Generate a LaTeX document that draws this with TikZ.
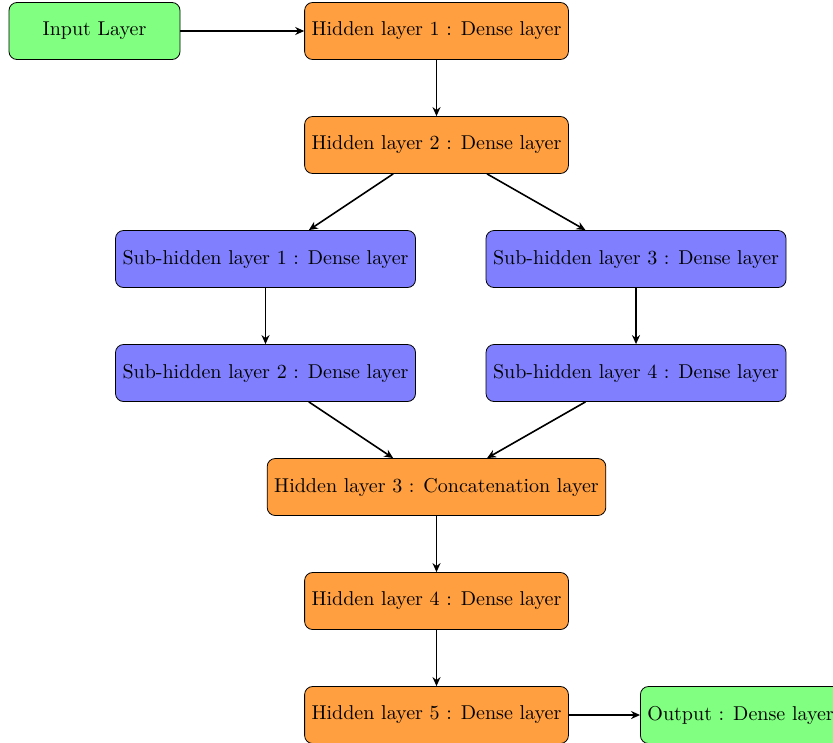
\documentclass[tikz,border=0pt]{standalone}
\usepackage{xcolor}
\usepackage{tikz}
\usetikzlibrary{positioning}
\usetikzlibrary{arrows.meta}

\begin{document}
\begin{tikzpicture}[
  layer/.style={
      draw, rounded corners = 4pt, minimum height = 1cm,
      inner sep = 3.5pt
  },
  io/.style={layer, fill = green!50, minimum width = 3cm},
  dense/.style={layer, fill = orange!75},
  sub/.style={layer, fill = blue!50},
  link/.style={-{Stealth[length = 4.5pt, width = 4pt]}, thick}
]
  \useasboundingbox (-7.658, .544) rectangle (6.956, -12.474);

  \node[io] (input) at (-6, 0) {Input Layer};
  \node[dense] (hid1) at (0, 0) {Hidden layer 1 : Dense layer};
  \node[dense] (hid2) at (0, -2) {Hidden layer 2 : Dense layer};

  \node[sub] (sub1) at (-3, -4) {Sub-hidden layer 1 : Dense layer};
  \node[sub] (sub3) at (3.5, -4) {Sub-hidden layer 3 : Dense layer};
  \node[sub] (sub2) at (-3, -6) {Sub-hidden layer 2 : Dense layer};
  \node[sub] (sub4) at (3.5, -6) {Sub-hidden layer 4 : Dense layer};

  \node[dense] (hid3) at (0, -8) {Hidden layer 3 : Concatenation layer};
  \node[dense] (hid4) at (0, -10) {Hidden layer 4 : Dense layer};
  \node[dense] (hid5) at (0, -12) {Hidden layer 5 : Dense layer};
  \node[io, right = 1.25cm of hid5] (output) {Output : Dense layer};

  \draw[link] (input) -- (hid1);
  \draw[link] (hid1) -- (hid2);
  \draw[link] (hid2) -- (sub1);
  \draw[link] (hid2) -- (sub3);
  \draw[link] (sub1) -- (sub2);
  \draw[link] (sub3) -- (sub4);
  \draw[link] (sub2) -- (hid3);
  \draw[link] (sub4) -- (hid3);
  \draw[link] (hid3) -- (hid4);
  \draw[link] (hid4) -- (hid5);
  \draw[link] (hid5) -- (output);
\end{tikzpicture}
\end{document}
